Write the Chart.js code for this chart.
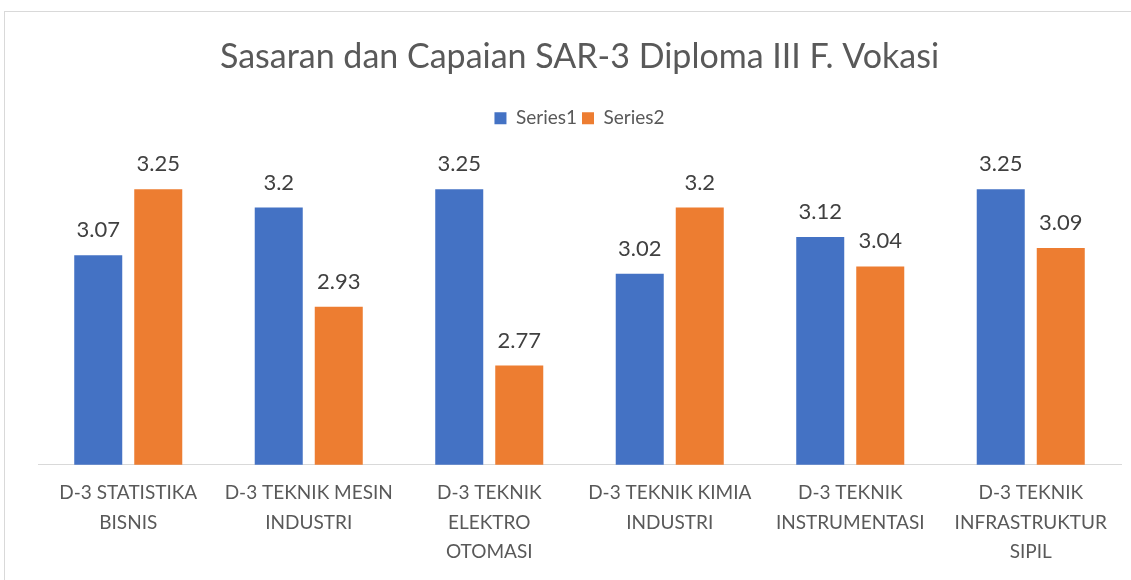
<!DOCTYPE html>
<html>
<head>
<title>Sasaran dan Capaian SAR-3</title>
<script src="https://cdn.jsdelivr.net/npm/chart.js"></script>
<style>
  body { margin: 0; background: #fff; }
  #frame {
    position: absolute; left: 4px; top: 11px; width: 1140px; height: 580px;
    border: 1px solid #d9d9d9;
  }
  #chart-container { position: absolute; left: 0; top: 0; width: 1131px; height: 580px; }
</style>
</head>
<body>
<div id="frame"></div>
<div id="chart-container">
  <canvas id="sarChart"></canvas>
</div>
<script>
const categories = [
  ['D-3 STATISTIKA', 'BISNIS'],
  ['D-3 TEKNIK MESIN', 'INDUSTRI'],
  ['D-3 TEKNIK', 'ELEKTRO', 'OTOMASI'],
  ['D-3 TEKNIK KIMIA', 'INDUSTRI'],
  ['D-3 TEKNIK', 'INSTRUMENTASI'],
  ['D-3 TEKNIK', 'INFRASTRUKTUR', 'SIPIL']
];
const series1 = [3.07, 3.2, 3.25, 3.02, 3.12, 3.25];
const series2 = [3.25, 2.93, 2.77, 3.2, 3.04, 3.09];

const fontFamily = 'Lato, "Noto Sans", sans-serif';

// value labels above each bar, like Excel data labels
const valueLabels = {
  id: 'valueLabels',
  afterDatasetsDraw(chart) {
    const ctx = chart.ctx;
    ctx.save();
    ctx.font = '22px ' + fontFamily;
    ctx.fillStyle = '#404040';
    ctx.textAlign = 'center';
    ctx.textBaseline = 'middle';
    chart.data.datasets.forEach((ds, i) => {
      chart.getDatasetMeta(i).data.forEach((bar, j) => {
        ctx.fillText(String(ds.data[j]), bar.x, bar.y - 25);
      });
    });
    ctx.restore();
  }
};

new Chart(document.getElementById('sarChart'), {
  type: 'bar',
  data: {
    labels: categories,
    datasets: [
      { label: 'Series1', data: series1, backgroundColor: '#4472C4' },
      { label: 'Series2', data: series2, backgroundColor: '#ED7D31' }
    ]
  },
  options: {
    responsive: true,
    maintainAspectRatio: false,
    animation: false,
    categoryPercentage: 0.665,
    barPercentage: 0.8,
    layout: { padding: { left: 38, right: 10, top: 0, bottom: 0 } },
    scales: {
      x: {
        grid: { display: false, drawTicks: false },
        border: { display: true, color: '#d9d9d9', width: 1 },
        ticks: {
          color: '#595959',
          font: { family: fontFamily, size: 19, lineHeight: 1.53 },
          padding: 14,
          maxRotation: 0,
          autoSkip: false
        }
      },
      y: {
        display: false,
        min: 2.5,
        max: 3.39
      }
    },
    plugins: {
      title: {
        display: true,
        text: 'Sasaran dan Capaian SAR-3 Diploma III F. Vokasi',
        color: '#595959',
        font: { family: fontFamily, size: 34, weight: 'normal', lineHeight: 1.2 },
        padding: { top: 37, bottom: 26 }
      },
      legend: {
        position: 'top',
        labels: {
          color: '#595959',
          font: { family: fontFamily, size: 19 },
          boxWidth: 12,
          boxHeight: 12,
          padding: 5
        }
      },
      tooltip: { enabled: false }
    }
  },
  plugins: [valueLabels]
});
</script>
</body>
</html>
